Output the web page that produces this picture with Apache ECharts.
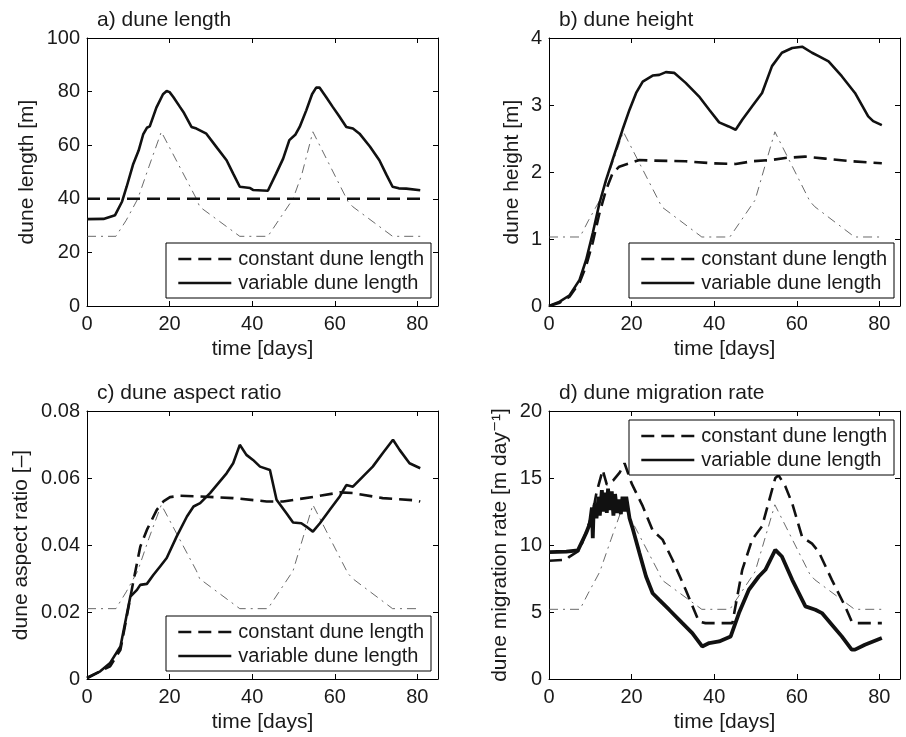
<!DOCTYPE html>
<html>
<head>
<meta charset="UTF-8">
<title>dune evolution</title>
<script src="https://cdn.jsdelivr.net/npm/echarts@6/dist/echarts.min.js"></script>
<style>
  html,body{margin:0;padding:0;background:#fff;}
  #chart{width:906px;height:737px;}
</style>
</head>
<body>
<div id="chart"></div>
<script>
// values: [time (days), value]
var legendNames = ['constant dune length', 'variable dune length'];
var panelTitles = ['a) dune length', 'b) dune height', 'c) dune aspect ratio', 'd) dune migration rate'];
var yNames = ['dune length [m]', 'dune height [m]', 'dune aspect ratio [\u2013]', 'dune migration rate [m day\u207B\u00B9]'];
var yMax = [100, 4, 0.08, 20];
var yStep = [20, 1, 0.02, 5];

// a) dune length
var lengthConst = [[0, 40], [81, 40]];
var lengthVar = [[0, 32.4], [4, 32.5], [4.3, 33], [6.8, 33.9], [7.2, 34.2], [8.5, 39], [9.6, 44.5], [11.2, 53], [12.5, 58],
  [13.6, 64], [14.5, 66.5], [15.2, 67], [16.8, 74], [18.4, 79], [19.3, 80.2], [20, 79.8], [20.9, 78], [22.5, 74.3],
  [23.5, 72], [25.3, 66.8], [26.5, 66.2], [28.9, 64.3], [31.5, 59], [33.8, 54.4], [35.4, 49.4], [37, 44.5], [39.5, 44],
  [40.2, 43.3], [43.8, 43], [45.8, 49.4], [47.5, 55], [49, 61.9], [50.5, 64], [51.5, 66.8], [53.1, 73], [54.5, 79],
  [55.5, 81.5], [56.3, 81.5], [57.9, 78], [59.5, 74.3], [61, 71], [62.8, 66.8], [64.4, 66.2], [66, 64.3], [68.5, 59.5],
  [70.8, 54.4], [72.5, 49], [74, 44.5], [75.5, 43.9], [77.3, 43.8], [77.6, 43.3], [80.7, 43.2]];
var lengthForcing = [[0, 26], [7, 26], [9.5, 32], [12.3, 40], [15, 52], [18, 65], [26.5, 40], [27.3, 37], [37, 26],
  [43.8, 26], [49.9, 40], [52, 49], [54.7, 65], [63.2, 39], [64.4, 37], [74, 26], [80.7, 26]];

// b) dune height
var heightConst = [[0, 0], [2.6, 0.05], [5, 0.14], [7.4, 0.35], [9, 0.6], [10.6, 0.95], [12.2, 1.38], [13.8, 1.73],
  [15.4, 1.98], [17, 2.08], [19.5, 2.13], [21.9, 2.18], [25.1, 2.17], [33.1, 2.16], [39.6, 2.13], [45.2, 2.12],
  [49.2, 2.16], [54, 2.18], [57.2, 2.21], [62, 2.23], [66.9, 2.2], [73.3, 2.16], [80.6, 2.13]];
var heightVar = [[0, 0], [2.6, 0.065], [5, 0.16], [7.4, 0.39], [9, 0.69], [10.6, 1.09], [12.2, 1.53], [13.8, 1.88],
  [15.4, 2.18], [17.8, 2.63], [19.5, 2.93], [21.1, 3.18], [22.7, 3.35], [25.1, 3.44], [26.7, 3.45], [28.3, 3.49],
  [30.3, 3.48], [33.1, 3.33], [36.3, 3.13], [38.8, 2.93], [41.2, 2.74], [43.5, 2.68], [45.2, 2.63], [46.8, 2.78],
  [49.2, 2.98], [51.6, 3.18], [54, 3.58], [56.4, 3.78], [58.9, 3.85], [61.3, 3.87], [63.7, 3.78], [65.3, 3.73],
  [67.7, 3.65], [70.9, 3.43], [74.1, 3.18], [77.3, 2.83], [78.5, 2.76], [80.6, 2.7]];
var heightForcing = [[0, 1.03], [7.5, 1.03], [9.5, 1.27], [12.3, 1.58], [15, 2.06], [18, 2.6], [26.5, 1.58], [27.3, 1.48],
  [37, 1.03], [43.8, 1.03], [49.9, 1.58], [54.7, 2.6], [63.2, 1.56], [64.4, 1.48], [74, 1.03], [80.6, 1.03]];

// c) dune aspect ratio
var ratioConst = [[0, 0.0003], [5.6, 0.0038], [8.1, 0.0087], [11.3, 0.0296], [12.9, 0.0395], [14.5, 0.0445],
  [16.9, 0.0505], [18.5, 0.053], [20.1, 0.0543], [22.5, 0.0547], [27.4, 0.0545], [35.4, 0.054], [43.5, 0.053],
  [47.5, 0.053], [55.5, 0.0545], [61.2, 0.0557], [64.4, 0.0555], [71.6, 0.054], [79.7, 0.0533], [80.7, 0.053]];
var ratioVar = [[0, 0.0003], [3.2, 0.0023], [5.6, 0.0048], [8.1, 0.0097], [10.5, 0.0246], [12.1, 0.0266], [12.9, 0.0281],
  [14.5, 0.0284], [16.1, 0.0311], [17.7, 0.0336], [19.3, 0.0361], [21.7, 0.0425], [24.2, 0.0485], [25.8, 0.0515],
  [27.4, 0.0525], [29.8, 0.0555], [33.8, 0.0614], [35.4, 0.0644], [37, 0.0699], [38.6, 0.0669], [40.2, 0.0654],
  [41.9, 0.0634], [44.3, 0.0624], [45.9, 0.0535], [48.3, 0.0495], [49.9, 0.0467], [51.9, 0.0465], [53.1, 0.0455],
  [54.7, 0.044], [56.4, 0.0465], [58.8, 0.0505], [61.2, 0.0545], [62.8, 0.0579], [64.4, 0.0574], [66.8, 0.0604],
  [69.2, 0.0634], [71.6, 0.0674], [74.1, 0.0714], [75.7, 0.0684], [78.1, 0.0644], [80.7, 0.0629]];
var ratioForcing = [[0, 0.021], [7, 0.021], [9.5, 0.026], [12.3, 0.0323], [15, 0.042], [18, 0.052], [26.5, 0.0323],
  [27.3, 0.0299], [37, 0.021], [43.8, 0.021], [49.9, 0.0323], [54.7, 0.052], [63.2, 0.0315], [64.4, 0.0299],
  [74, 0.021], [80.7, 0.021]];

// d) dune migration rate
var rateConst = [[0, 8.82], [4.2, 8.9], [5, 9.14], [7.4, 9.6], [10.6, 12.4], [11.5, 13.9], [13, 15.6], [14, 14.5],
  [15.5, 14.8], [17.1, 15.4], [18.3, 16.1], [20, 14.6], [22.7, 12.9], [25.1, 11.1], [27.5, 10.4], [29.9, 8.9],
  [33.1, 6.66], [36.3, 4.3], [37.9, 4.17], [44.4, 4.17], [46.8, 8.15], [49.2, 10.4], [51.6, 11.4], [54.8, 15],
  [55.6, 15.2], [57.2, 14.4], [58.9, 13.1], [61.3, 10.6], [63.7, 10.1], [65.3, 9.5], [68.5, 7.4], [71.7, 5.42],
  [73.3, 4.3], [74.1, 4.17], [80.6, 4.17]];
var rateVar = [[0, 9.47], [4.2, 9.5], [7, 9.6], [9, 10.9], [9.9, 11.6], [10.4, 12.8], [10.6, 10.5], [10.8, 12.5],
  [11.1, 13.1], [11.5, 12], [12, 13.6], [12.3, 12.2], [12.8, 14.1], [13.2, 12.5], [13.5, 13.9], [14, 12.4],
  [14.3, 14.2], [14.7, 12.6], [15.2, 14], [15.6, 12.2], [16, 13.8], [16.5, 12.4], [17, 13.4], [17.4, 12.3],
  [17.8, 13.6], [18.3, 12.5], [18.7, 13.6], [19.5, 12], [20.3, 11.2], [21.9, 9.4], [23.5, 7.65], [25.1, 6.4],
  [26.7, 5.9], [29.1, 5.17], [32.3, 4.17], [34.7, 3.43], [37.1, 2.43], [38.8, 2.68], [41.2, 2.8], [44, 3.18],
  [46, 4.92], [48.4, 6.66], [50.8, 7.65], [52.4, 8.15], [54.8, 9.64], [56.4, 9.14], [58.9, 7.4], [62.1, 5.42],
  [64.5, 5.17], [66.1, 4.92], [68.5, 4.05], [70.9, 3.18], [73.3, 2.19], [74.1, 2.19], [76.5, 2.56], [80.6, 3.06]];
var rateForcing = [[0, 5.2], [7.5, 5.2], [9.5, 6.4], [12.3, 8], [15, 10.4], [18, 13], [26.5, 8], [27.3, 7.4], [37, 5.2],
  [43.8, 5.2], [49.9, 8], [54.7, 13], [63.2, 7.8], [64.4, 7.4], [74, 5.2], [80.6, 5.2]];

var constSets = [lengthConst, heightConst, ratioConst, rateConst];
var varSets = [lengthVar, heightVar, ratioVar, rateVar];
var forcingSets = [lengthForcing, heightForcing, ratioForcing, rateForcing];

var FONT = '"Liberation Sans", Arial, "DejaVu Sans", sans-serif';
var INK = '#1a1a1a';

// panel boxes (px)
var grids = [
  {left: 87, top: 38, width: 351, height: 268},
  {left: 549, top: 38, width: 351, height: 268},
  {left: 87, top: 411, width: 351, height: 268},
  {left: 549, top: 411, width: 351, height: 268}
];
var yNameGap = [49, 26, 55, 38];
var legendPos = [[166, 243], [629, 243], [166, 616], [629, 420]];
var varWidth = [2.6, 2.6, 2.6, 3.8];

var xAxes = [], yAxes = [], series = [], titles = [], legends = [];

function axisStyle() {
  return {
    axisLine: {onZero: false, lineStyle: {color: '#000', width: 1}},
    axisTick: {inside: true, length: 5, lineStyle: {color: '#000', width: 1}},
    splitLine: {show: false}
  };
}

for (var i = 0; i < 4; i++) {
  var g = grids[i];
  xAxes.push(Object.assign({
    type: 'value', gridIndex: i, position: 'bottom', min: 0, max: 85, interval: 20,
    name: 'time [days]', nameLocation: 'middle', nameGap: 33,
    nameTextStyle: {fontFamily: FONT, fontSize: 21, color: INK},
    axisLabel: {showMaxLabel: false, margin: 8, fontFamily: FONT, fontSize: 20, color: INK}
  }, axisStyle()));
  xAxes.push(Object.assign({
    type: 'value', gridIndex: i, position: 'top', min: 0, max: 85, interval: 20,
    axisLabel: {show: false}
  }, axisStyle()));
  yAxes.push(Object.assign({
    type: 'value', gridIndex: i, position: 'left', min: 0, max: yMax[i], interval: yStep[i],
    name: yNames[i], nameLocation: 'middle', nameGap: yNameGap[i],
    nameTextStyle: {fontFamily: FONT, fontSize: 21, color: INK},
    axisLabel: {margin: 7, fontFamily: FONT, fontSize: 20, color: INK}
  }, axisStyle()));
  yAxes.push(Object.assign({
    type: 'value', gridIndex: i, position: 'right', min: 0, max: yMax[i], interval: yStep[i],
    axisLabel: {show: false}
  }, axisStyle()));

  titles.push({
    text: panelTitles[i], left: g.left + 10, top: g.top - 28, padding: 0,
    textStyle: {fontFamily: FONT, fontSize: 21, fontWeight: 'normal', color: INK}
  });

  legends.push({
    data: legendNames, orient: 'vertical', left: legendPos[i][0], top: legendPos[i][1],
    backgroundColor: '#fff', borderColor: '#000', borderWidth: 1, borderRadius: 0,
    padding: [6, 7, 5, 11], itemGap: 4, itemWidth: 53, itemHeight: 16,
    selectedMode: false,
    itemStyle: {opacity: 0},
    lineStyle: {width: 2.6},
    textStyle: {fontFamily: FONT, fontSize: 20, color: INK, padding: [0, 0, 0, 2]}
  });

  series.push({
    name: 'forcing', type: 'line', xAxisIndex: 2 * i, yAxisIndex: 2 * i,
    data: forcingSets[i], showSymbol: false, symbol: 'none', silent: true, z: 1,
    itemStyle: {color: '#444'},
    lineStyle: {color: '#444', width: 0.8, type: [9, 5, 2, 5]}
  });
  series.push({
    name: legendNames[0], type: 'line', xAxisIndex: 2 * i, yAxisIndex: 2 * i,
    data: constSets[i], showSymbol: false, symbol: 'none', z: 2,
    itemStyle: {color: '#111'},
    lineStyle: {color: '#111', width: 2.6, type: [13, 7]}
  });
  series.push({
    name: legendNames[1], type: 'line', xAxisIndex: 2 * i, yAxisIndex: 2 * i,
    data: varSets[i], showSymbol: false, symbol: 'none', z: 3,
    itemStyle: {color: '#111'},
    lineStyle: {color: '#111', width: varWidth[i]}
  });
}

var chart = echarts.init(document.getElementById('chart'));
chart.setOption({
  animation: false,
  backgroundColor: '#fff',
  title: titles,
  legend: legends,
  grid: grids,
  xAxis: xAxes,
  yAxis: yAxes,
  series: series
});
</script>
</body>
</html>
